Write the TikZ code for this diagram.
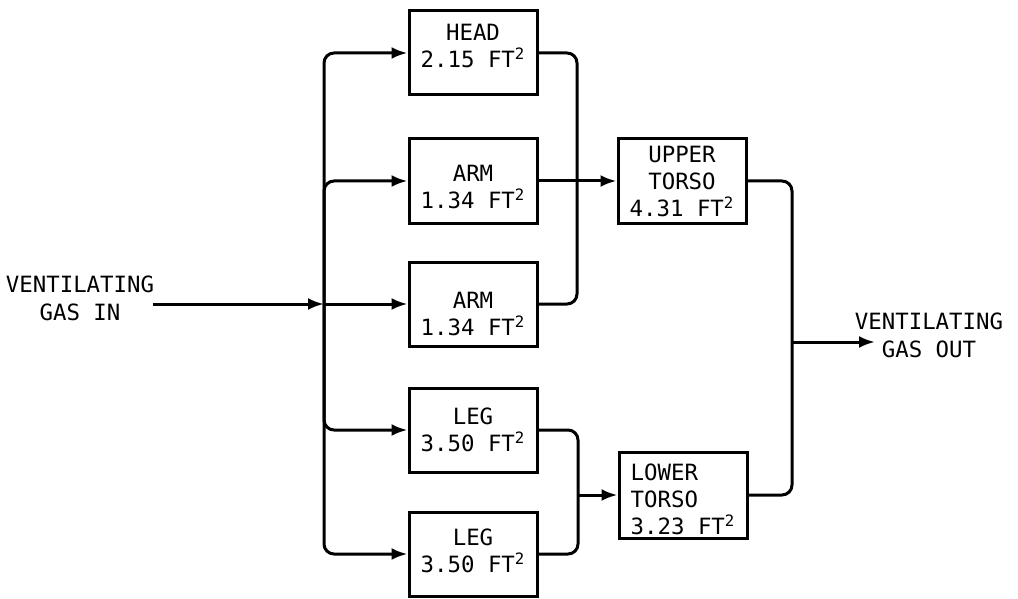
\documentclass[tikz,border=0pt]{standalone}
\usepackage{fontspec}
\setmainfont{DejaVu Sans Mono}
\usepackage{tikz}
\usetikzlibrary{arrows.meta,positioning}

\begin{document}
\begin{tikzpicture}[x=0.5pt,y=-0.5pt,
  area/.style={draw,line width=1.5pt,minimum width=64pt,minimum height=42pt,
               align=center,inner sep=1pt,font=\fontsize{11.2}{13.5}\selectfont},
  label/.style={align=center,inner sep=0pt,font=\fontsize{11.2}{14}\selectfont},
  line/.style={line width=1.5pt,rounded corners=5pt},
  arr/.style={line,-{Latex[length=8pt,width=6pt]}}]
\useasboundingbox (0,0) rectangle (1018,599);
% body sections
\node[area,text depth=7pt]     (head)  at (473,53)  {HEAD\\2.15 FT\textsuperscript{2}};
\node[area,text height=27.7pt] (arma)  at (473,181) {ARM\\1.34 FT\textsuperscript{2}};
\node[area,text height=31.7pt] (armb)  at (473,304) {ARM\\1.34 FT\textsuperscript{2}};
\node[area] (lega)  at (473,430) {LEG\\3.50 FT\textsuperscript{2}};
\node[area,text depth=3pt] (legb)  at (473,554) {LEG\\3.50 FT\textsuperscript{2}};
\node[area] (upper) at (682,181) {UPPER\\TORSO\\4.31 FT\textsuperscript{2}};
\node[area,align=left,minimum height=43pt,text height=39.2pt] (lower) at (683,495)
  {LOWER\\TORSO\\3.23 FT\textsuperscript{2}};
% inlet and outlet
\node[label] (inlbl)  at (80,298)  {VENTILATING\\GAS IN};
\node[label] (outlbl) at (929,335) {VENTILATING\\GAS OUT};
\coordinate (gasin)  at (153,304);
\coordinate (split)  at (324,304);
\coordinate (armbus) at (577,250);
\coordinate (legbus) at (578,495);
\coordinate (outbus) at (792,342);
\coordinate (gasout) at (875,342);
% supply manifold
\draw[arr] (gasin) -- (split);
\draw[arr] (split) -- (armb);
\draw[arr] (split) |- (head.west);
\draw[arr] (split) |- (arma.west);
\draw[arr] (split) |- (lega.west);
\draw[arr] (split) |- (legb.west);
% return to torso
\draw[line] (head.east) -| (armbus) |- (armb.east);
\draw[arr] (arma.east) -- (upper.west);
\draw[line] (lega.east) -| (legbus) |- (legb.east);
\draw[arr] (legbus) -- (lower.west);
% exhaust
\draw[line] (upper.east) -| (outbus) |- (lower.east);
\draw[arr] (outbus) -- (gasout);
\end{tikzpicture}
\end{document}
